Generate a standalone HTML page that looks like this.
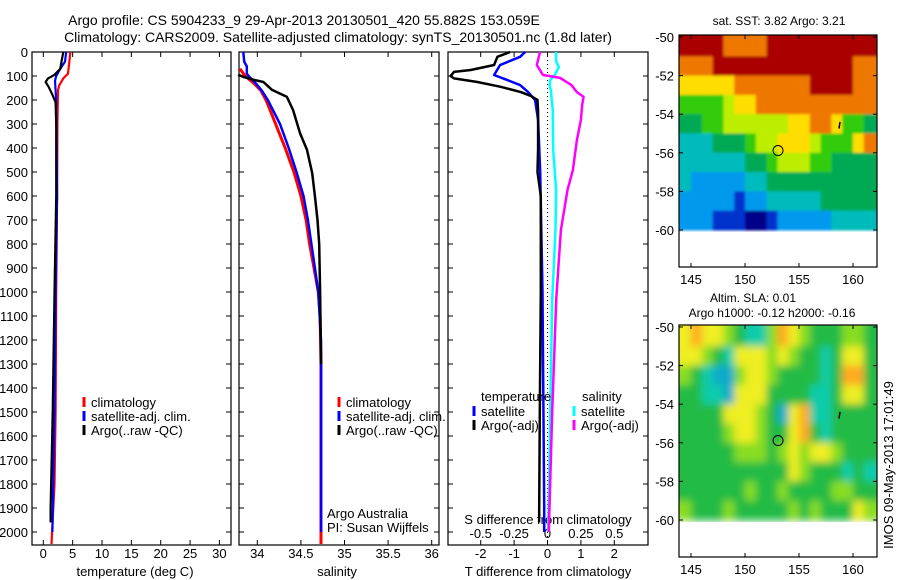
<!DOCTYPE html>
<html><head><meta charset="utf-8">
<style>
html,body{margin:0;padding:0;background:#fff;}
svg{display:block;font-family:"Liberation Sans",sans-serif;}
text{fill:#000;}
</style></head>
<body>
<svg id="fig" width="900" height="580" viewBox="0 0 900 580" xmlns="http://www.w3.org/2000/svg">
<defs>
<clipPath id="clipSst"><rect x="679" y="35" width="198" height="197"/></clipPath>
<clipPath id="clipSla"><rect x="679" y="325" width="198" height="197"/></clipPath>
<filter id="blurSst" x="-5%" y="-5%" width="110%" height="110%"><feGaussianBlur stdDeviation="1.2"/></filter>
<filter id="blurSla" x="-5%" y="-5%" width="110%" height="110%"><feGaussianBlur stdDeviation="4"/></filter>
</defs>
<rect width="900" height="580" fill="#fff"/>
<text x="304" y="25" font-size="14" text-anchor="middle">Argo profile: CS 5904233_9 29-Apr-2013 20130501_420 55.882S 153.059E</text>
<text x="338" y="42" font-size="14" text-anchor="middle">Climatology: CARS2009. Satellite-adjusted climatology: synTS_20130501.nc (1.8d later)</text>
<g id="g"></g>
</svg>
<script>
// ---------- data ----------
const depthTicks = [0,100,200,300,400,500,600,700,800,900,1000,1100,1200,1300,1400,1500,1600,1700,1800,1900,2000];
const tempTicks = [0,5,10,15,20,25,30];
const salTicks = [34,34.5,35,35.5,36];
const tdiffTicks = [-2,-1,0,1,2];
const sdiffTicks = [-0.5,-0.25,0,0.25,0.5];
const sdiffLabels = ["-0.5","-0.25","0","0.25","0.5"];
const latTicks = [-50,-52,-54,-56,-58,-60];
const lonTicks = [145,150,155,160];

const tempClimD = [0,50,90,110,140,160,300,600,1000,1500,1800,2050];
const tempClimV = [4.6,4.4,4.2,3.4,2.7,2.5,2.4,2.35,2.2,2.1,1.9,1.4];
const tempSatD = [0,40,70,100,120,200,600,1000,1500,2000];
const tempSatV = [3.9,3.7,2.9,2.2,2.0,2.2,2.35,2.1,1.9,1.55];
const tempArgoD = [0,40,70,95,110,125,145,175,210,300,600,1000,1500,1900,1960];
const tempArgoV = [3.4,3.1,2.9,1.9,0.8,0.4,0.9,1.5,2.1,2.2,2.2,1.9,1.6,1.25,1.25];

const salClimD = [70,100,130,160,200,300,400,500,600,700,800,900,1000,1100,1300,2050];
const salClimV = [33.8,33.86,33.96,34.04,34.1,34.21,34.32,34.42,34.5,34.56,34.6,34.65,34.7,34.72,34.73,34.73];
const salSatD = [0,40,60,90,100,130,160,200,300,400,500,600,700,800,900,1000,1200,2000];
const salSatV = [33.84,33.85,33.88,33.88,33.9,33.98,34.05,34.12,34.26,34.36,34.45,34.53,34.58,34.62,34.66,34.7,34.73,34.73];
const salArgoD = [95,105,115,125,158,187,242,338,408,505,600,700,800,1000,1300];
const salArgoV = [33.78,33.85,33.95,34.07,34.17,34.34,34.41,34.49,34.57,34.63,34.66,34.69,34.71,34.72,34.73];

const tdSatD = [0,20,54,96,117,138,167,200,283,500,1000,1900,2000];
const tdSatV = [-0.67,-0.82,-1.42,-1.6,-1.2,-0.82,-0.58,-0.37,-0.28,-0.22,-0.15,-0.1,-0.1];
const tdArgoD = [0,20,54,75,83,100,110,125,145,167,183,200,250,400,500,600,1000,1500,1960];
const tdArgoV = [-1.12,-1.5,-1.6,-2.3,-2.8,-2.9,-2.8,-2.1,-1.4,-0.8,-0.5,-0.3,-0.28,-0.28,-0.3,-0.2,-0.2,-0.23,-0.25];
const sdSatD = [0,40,63,96,117,140,158,242,408,575,742,1033,1500,2000];
const sdSatV = [0.064,0.064,0.085,0.055,0.02,0.015,0.025,0.04,0.043,0.064,0.06,0.035,0.02,0.005];
const sdArgoD = [0,54,96,108,138,167,187,220,283,367,450,492,575,742,908,1033,1500,2000];
const sdArgoV = [-0.056,-0.08,-0.034,0.094,0.18,0.22,0.27,0.26,0.25,0.22,0.2,0.19,0.15,0.1,0.08,0.065,0.035,0.01];

// SST map grid (rows lat -50..-60, cols lon 144..161), colour index
const sstGrid = [
"999988889999999999",
"888999999999999988",
"777778888888999988",
"555567788888888888",
"445566666677887554",
"333444566777655578",
"333333445666554444",
"322222334444444444",
"222221223333344444",
"222111001222223333"];
const sstColors = ["#000088","#0033cc","#0099ee","#00bbbb","#00aa55","#33cc11","#bbee00","#ffdd00","#ee7700","#aa0000"];
const slaGrid = [
"454432113543222332",
"443214443432212442",
"321003443222212552",
"221104442222112442",
"222244432045112222",
"222234432245212222",
"222223332343443222",
"222222222243222121",
"222222322322223322",
"322232222232322243"];
const slaColors = ["#11aacc","#11ccaa","#22bb44","#88dd22","#eeee22","#ffaa22"];
const argoLon = 153.059, argoLat = -55.882;

// ---------- helpers ----------
const NS="http://www.w3.org/2000/svg";
const G=document.getElementById('g');
function el(tag,attrs,parent){const e=document.createElementNS(NS,tag);for(const k in attrs)e.setAttribute(k,attrs[k]);(parent||G).appendChild(e);return e;}
function txt(s,x,y,size,anchor,name){const t=el('text',{x:x,y:y,'font-size':size,'text-anchor':anchor||'start'});t.textContent=s;


return t;}

const TOP=52, BOT=545;
const yD = d => TOP + d*0.24;
const panels = [
 {x0:32,x1:231,vx:v=>43.3+v*5.87},
 {x0:239,x1:439,vx:v=>257.3+(v-34)*87.2},
 {x0:448,x1:648,vx:v=>547.5+v*33.4}
];
const sx = v => 547.5 + v*133.6;

function frame(p,name){
  const r=el('rect',{x:p.x0,y:TOP,width:p.x1-p.x0,height:BOT-TOP,fill:'none',stroke:'#000','stroke-width':1.2});
  
  
  depthTicks.forEach(d=>{
    const y=yD(d);
    el('line',{x1:p.x0,y1:y,x2:p.x0+5,y2:y,stroke:'#000'});
    el('line',{x1:p.x1,y1:y,x2:p.x1-5,y2:y,stroke:'#000'});
  });
}
function xticks(p,ticks,fmt,name){
  ticks.forEach((t,i)=>{const x=p.vx(t);
    el('line',{x1:x,y1:BOT,x2:x,y2:BOT-5,stroke:'#000'});
    el('line',{x1:x,y1:TOP,x2:x,y2:TOP+5,stroke:'#000'});
    txt(fmt?fmt(t,i):String(t),x,558,13,'middle',name);
  });
}
function line(D,V,xf,color,name,w){
  const pts=D.map((d,i)=>xf(V[i]).toFixed(1)+','+yD(d).toFixed(1)).join(' ');
  const l=el('polyline',{points:pts,fill:'none',stroke:color,'stroke-width':w||2.2,'stroke-linejoin':'round'});
  
  
}
function legend(x,y,color,label,name){
  const m=el('line',{x1:x,y1:y-10,x2:x,y2:y,stroke:color,'stroke-width':3});
  
  
  txt(label,x+7,y,13,'start',name);
}

// panel 1
frame(panels[0],'temperature-panel');
depthTicks.forEach(d=>txt(String(d),28,yD(d)+5,13,'end','depth-tick-label'));
xticks(panels[0],tempTicks,null,'temperature-tick-label');
txt('temperature (deg C)',135,576,13,'middle','temperature-axis-title');
line(tempClimD,tempClimV,panels[0].vx,'#ff0000','temp-climatology-line');
line(tempSatD,tempSatV,panels[0].vx,'#0000ff','temp-satellite-line');
line(tempArgoD,tempArgoV,panels[0].vx,'#000000','temp-argo-line');
legend(84,407,'#ff0000','climatology','legend-climatology');
legend(84,421,'#0000ff','satellite-adj. clim.','legend-satellite');
legend(84,435,'#000000','Argo(..raw -QC)','legend-argo');

// panel 2
frame(panels[1],'salinity-panel');
xticks(panels[1],salTicks,null,'salinity-tick-label');
txt('salinity',337,576,13,'middle','salinity-axis-title');
line(salClimD,salClimV,panels[1].vx,'#ff0000','sal-climatology-line',3);
line(salSatD,salSatV,panels[1].vx,'#0000ff','sal-satellite-line',2.5);
line(salArgoD,salArgoV,panels[1].vx,'#000000','sal-argo-line',2.5);
legend(339,407,'#ff0000','climatology','legend-climatology-2');
legend(339,421,'#0000ff','satellite-adj. clim.','legend-satellite-2');
legend(339,435,'#000000','Argo(..raw -QC)','legend-argo-2');
txt('Argo Australia',327,518,13,'start','argo-australia-label');
txt('PI: Susan Wijffels',327,532,13,'start','pi-label');

// panel 3
frame(panels[2],'difference-panel');
el('line',{x1:547.5,y1:TOP,x2:547.5,y2:BOT,stroke:'#000','stroke-dasharray':'1,3'});
xticks(panels[2],tdiffTicks,null,'tdiff-tick-label');
sdiffTicks.forEach((v,i)=>txt(sdiffLabels[i],sx(v),538,13,'middle','sdiff-tick-label'));
txt('S difference from climatology',548,524,13,'middle','sdiff-axis-title');
txt('T difference from climatology',548,576,13,'middle','tdiff-axis-title');
line(tdSatD,tdSatV,panels[2].vx,'#0000ff','tdiff-satellite-line',2.5);
line(tdArgoD,tdArgoV,panels[2].vx,'#000000','tdiff-argo-line',2.5);
line(sdSatD,sdSatV,sx,'#00ffff','sdiff-satellite-line',2.5);
line(sdArgoD,sdArgoV,sx,'#ff00ff','sdiff-argo-line',2.5);
txt('temperature',481,401,13,'start','legend-temperature-header');
txt('salinity',582,401,13,'start','legend-salinity-header');
legend(474,416,'#0000ff','satellite','legend-t-satellite');
legend(474,430,'#000000','Argo(-adj)','legend-t-argo');
legend(574,416,'#00ffff','satellite','legend-s-satellite');
legend(574,430,'#ff00ff','Argo(-adj)','legend-s-argo');

// maps
function map(y0,grid,colors,name,titles,clipId,filterId){
  const X0=679,X1=877,Y1=y0+232;
  const lx=lon=>691+(lon-145)*10.8;
  const ly=lat=>y0+2+(-50-lat)*19.3;
  const clipG=el('g',{'clip-path':'url(#'+clipId+')'});
  const cg=el('g',{filter:'url(#'+filterId+')'},clipG);
  
  
  const nr=grid.length;
  grid.forEach((row,r)=>{const nc=row.length;[...row].forEach((c,j)=>{
    let x=lx(144+j), w=11.3, y=ly(-50-r), h=19.8;
    if(j===0){x-=8;w+=8;}
    if(j===nc-1){w+=8;}
    if(r===0){y-=8;h+=8;}
    const cell=el('rect',{x:x.toFixed(1),y:y.toFixed(1),width:w.toFixed(1),height:h.toFixed(1),fill:colors[+c]},cg);
    
    
  });});
  const f=el('rect',{x:X0,y:y0,width:X1-X0,height:Y1-y0,fill:'none',stroke:'#000','stroke-width':1.2});
  
  
  latTicks.forEach(l=>{const y=ly(l);
    el('line',{x1:X0,y1:y,x2:X0+4,y2:y,stroke:'#000'});
    el('line',{x1:X1,y1:y,x2:X1-4,y2:y,stroke:'#000'});
    txt(String(l),674,y+5,13,'end',name+'-lat-label');});
  lonTicks.forEach(l=>{const x=lx(l);
    el('line',{x1:x,y1:y0,x2:x,y2:y0+4,stroke:'#000'});
    el('line',{x1:x,y1:Y1,x2:x,y2:Y1-4,stroke:'#000'});
    txt(String(l),x,Y1+17,13,'middle',name+'-lon-label');});
  const c=el('circle',{cx:lx(argoLon),cy:ly(argoLat),r:5,fill:'none',stroke:'#000','stroke-width':1});
  
  
  el('line',{x1:lx(158.8),y1:ly(-54.4),x2:lx(158.7),y2:ly(-54.75),stroke:'#000','stroke-width':1.5});
  titles.forEach((t,i)=>txt(t[0],t[1],t[2],12,'middle',name+'-title-'+i));
}
map(35,sstGrid,sstColors,'sst-map',[['sat. SST: 3.82 Argo: 3.21',779,25]],'clipSst','blurSst');
map(325,slaGrid,slaColors,'sla-map',[['Altim. SLA: 0.01',753,302],['Argo h1000: -0.12 h2000: -0.16',772,317]],'clipSla','blurSla');

const side=txt('IMOS 09-May-2013 17:01:49',0,0,13,'middle','timestamp-label');
side.setAttribute('transform','translate(893,465) rotate(-90)');
</script>
</body></html>
